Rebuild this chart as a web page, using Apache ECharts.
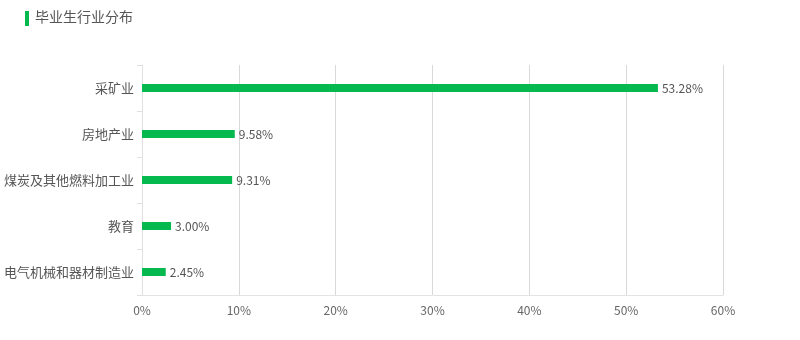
<!DOCTYPE html>
<html><head><meta charset="utf-8">
<script src="https://cdn.jsdelivr.net/npm/echarts@6/dist/echarts.min.js"></script>
<style>html,body{margin:0;padding:0;background:#fff}#c{width:800px;height:340px}</style>
</head><body><div id="c"></div>
<script>
const categories = ["采矿业", "房地产业", "石油、煤炭及其他燃料加工业", "教育", "电气机械和器材制造业"];
const values = [53.28, 9.58, 9.31, 3.00, 2.45];
const xTicks = [0, 10, 20, 30, 40, 50, 60];
const titleText = "毕业生行业分布";

const chart = echarts.init(document.getElementById('c'), null, {renderer: 'canvas'});
const font = '"Microsoft YaHei","Noto Sans CJK SC",sans-serif';
chart.setOption({
  animation: false,
  textStyle: {fontFamily: font},
  graphic: [
    {type: 'rect', shape: {x: 25, y: 11, width: 4, height: 15}, style: {fill: '#05b94f'}},
    {type: 'text', left: 35, top: 10, style: {text: titleText, fontSize: 14, fill: '#555', fontFamily: font}}
  ],
  grid: {left: 142, right: 77, top: 65, bottom: 45, containLabel: false, outerBoundsMode: 'none'},
  xAxis: {
    type: 'value', min: xTicks[0], max: xTicks[xTicks.length - 1], interval: 10,
    axisLine: {show: true, lineStyle: {color: '#e3e3e3'}},
    axisTick: {show: false},
    splitLine: {show: true, lineStyle: {color: '#d9d9d9'}},
    axisLabel: {color: '#666', fontSize: 12, margin: 9, formatter: v => v + '%'}
  },
  yAxis: {
    type: 'category', data: categories, inverse: true,
    axisLine: {show: true, lineStyle: {color: '#e0e0e0'}},
    axisTick: {show: true, length: 5, lineStyle: {color: '#e0e0e0'}},
    axisLabel: {color: '#555', fontSize: 13, margin: 8}
  },
  series: [{
    type: 'bar', data: values, barWidth: 8,
    itemStyle: {color: '#05b94f'},
    label: {show: true, position: 'right', distance: 4, color: '#555', fontSize: 12,
      formatter: p => p.value.toFixed(2) + '%'}
  }]
});
</script></body></html>
